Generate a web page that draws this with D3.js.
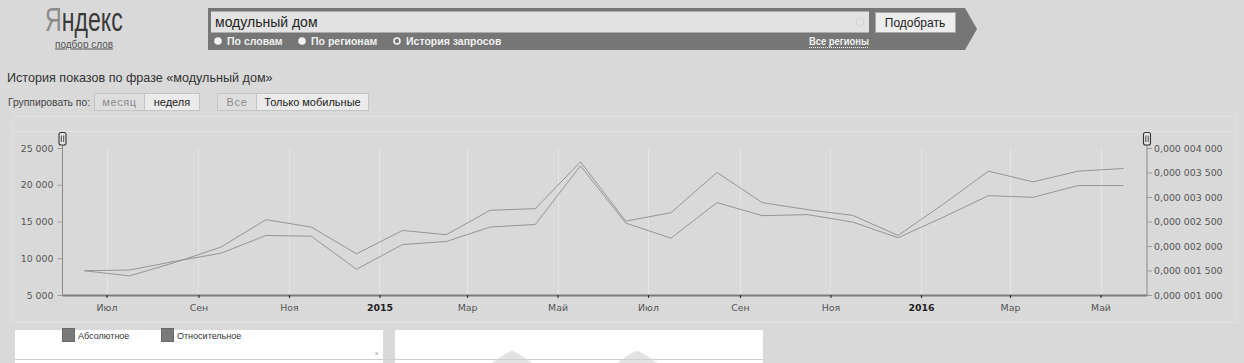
<!DOCTYPE html>
<html>
<head>
<meta charset="utf-8">
<script src="https://cdn.jsdelivr.net/npm/d3@7"></script>
<style>
  body { margin: 0; background: #d9d9d9; }
  svg { display: block; font-family: Arial, "Liberation Sans", sans-serif; }
  .axis text { font-family: "DejaVu Sans", Verdana, sans-serif; font-size: 9.4px; fill: #555; }
  .axis .year { font-weight: bold; fill: #222; }
</style>
</head>
<body>
<svg id="page" width="1244" height="363"></svg>
<script>
// monthly data, June 2014 - May 2016
const months = ['2014-06','2014-07','2014-08','2014-09','2014-10','2014-11','2014-12',
  '2015-01','2015-02','2015-03','2015-04','2015-05','2015-06','2015-07','2015-08','2015-09',
  '2015-10','2015-11','2015-12','2016-01','2016-02','2016-03','2016-04','2016-05'];

const absolute = [8300, 7600, 9450, 11500, 15250, 14240, 10600, 13780, 13200, 16520, 16750, 23110,
  15050, 16200, 21670, 17570, 16610, 15830, 13100, 17430, 21850, 20390, 21850, 22210];

const relative = [1.495e-6, 1.51e-6, 1.69e-6, 1.852e-6, 2.215e-6, 2.2e-6, 1.525e-6, 2.03e-6,
  2.092e-6, 2.386e-6, 2.44e-6, 3.636e-6, 2.467e-6, 2.16e-6, 2.886e-6, 2.619e-6, 2.64e-6,
  2.488e-6, 2.169e-6, 2.595e-6, 3.028e-6, 2.994e-6, 3.234e-6, 3.234e-6];

const monthNames = ['Янв','Фев','Мар','Апр','Май','Июн','Июл','Авг','Сен','Окт','Ноя','Дек'];
const leftTicks = [5000, 10000, 15000, 20000, 25000];
const rightTicks = [1e-6, 1.5e-6, 2e-6, 2.5e-6, 3e-6, 3.5e-6, 4e-6];

const svg = d3.select('#page');

// ---------- header ----------
// logo: one text, squeezed horizontally
const logo = svg.append('text')
  .attr('transform', 'translate(45,31) scale(0.68,1)')
  .style('font-size', '34px');
logo.append('tspan').attr('fill', '#8a8a8a').text('Я');
logo.append('tspan').attr('fill', '#3a3a3a').text('ндекс');

svg.append('text')
  .attr('x', 55).attr('y', 47.5)
  .style('font-size', '10px').attr('fill', '#555')
  .style('text-decoration', 'underline')
  .text('подбор слов');

// search band with arrow
svg.append('path')
  .attr('d', 'M208,8 L965,8 L977,29 L965,50 L208,50 Z')
  .attr('fill', '#767676');

svg.append('rect')
  .attr('x', 211).attr('y', 11.5).attr('width', 658).attr('height', 21)
  .attr('fill', '#e2e2e2');

svg.append('circle')
  .attr('cx', 860).attr('cy', 22).attr('r', 4)
  .attr('fill', 'none').attr('stroke', '#d0d0d0');

svg.append('text')
  .attr('x', 215).attr('y', 27)
  .style('font-size', '14px').attr('fill', '#222')
  .text('модульный дом');

svg.append('rect')
  .attr('x', 875.5).attr('y', 12.5).attr('width', 80).attr('height', 20)
  .attr('fill', '#ededed').attr('stroke', '#a8a8a8');
svg.append('text')
  .attr('x', 915).attr('y', 26.5).attr('text-anchor', 'middle')
  .style('font-size', '12px').attr('fill', '#222')
  .text('Подобрать');

const radios = [
  { x: 218, label: 'По словам', on: false },
  { x: 302, label: 'По регионам', on: false },
  { x: 397, label: 'История запросов', on: true }
];
radios.forEach(function(r){
  svg.append('circle')
    .attr('cx', r.x).attr('cy', 41).attr('r', r.on ? 3 : 3.8)
    .attr('fill', r.on ? 'none' : '#f2f2f2')
    .attr('stroke', '#f2f2f2').attr('stroke-width', r.on ? 1.6 : 0);
  svg.append('text')
    .attr('x', r.x + 9).attr('y', 45)
    .style('font-size', '10.5px').style('font-weight', 'bold').attr('fill', '#f0f0f0')
    .text(r.label);
});

svg.append('text')
  .attr('x', 809).attr('y', 45)
  .style('font-size', '10px').style('font-weight', 'bold').attr('fill', '#f0f0f0')
  .attr('textLength', 60).attr('lengthAdjust', 'spacingAndGlyphs')
  .text('Все регионы');
svg.append('line')
  .attr('x1', 809).attr('x2', 869).attr('y1', 47.5).attr('y2', 47.5)
  .attr('stroke', '#f0f0f0').attr('stroke-dasharray', '1,1');

// title and buttons
svg.append('text')
  .attr('x', 7).attr('y', 82)
  .style('font-size', '12.6px').attr('fill', '#333')
  .text('История показов по фразе «модульный дом»');

svg.append('text')
  .attr('x', 8).attr('y', 106)
  .style('font-size', '10.5px').attr('fill', '#444')
  .attr('textLength', 82).attr('lengthAdjust', 'spacingAndGlyphs')
  .text('Группировать по:');

const buttons = [
  { x: 94, w: 50, label: 'месяц', on: true },
  { x: 144, w: 55, label: 'неделя', on: false },
  { x: 217, w: 39, label: 'Все', on: true },
  { x: 256, w: 112, label: 'Только мобильные', on: false }
];
buttons.forEach(function(b){
  svg.append('rect')
    .attr('x', b.x + 0.5).attr('y', 93.5).attr('width', b.w).attr('height', 17)
    .attr('fill', b.on ? '#dedede' : '#ebebeb')
    .attr('stroke', '#c4c4c4');
  svg.append('text')
    .attr('x', b.x + b.w / 2 + 0.5).attr('y', 106)
    .attr('text-anchor', 'middle')
    .style('font-size', '11px')
    .style('letter-spacing', b.on ? '0.6px' : '0px')
    .attr('fill', b.on ? '#8a8a8a' : '#222')
    .text(b.label);
});

// ---------- chart ----------
svg.append('rect')
  .attr('x', 12.5).attr('y', 116.5).attr('width', 1224).attr('height', 206)
  .attr('fill', 'none').attr('stroke', '#e1e1e1');
svg.append('line')
  .attr('x1', 12).attr('x2', 1237).attr('y1', 131.5).attr('y2', 131.5)
  .attr('stroke', '#e1e1e1');

const x = d3.scaleTime()
  .domain([new Date(2014, 5, 1), new Date(2016, 5, 1)])
  .range([62, 1146.5]);
const yLeft = d3.scaleLinear().domain([5000, 25000]).range([295, 148]);
const yRight = d3.scaleLinear().domain([1e-6, 4e-6]).range([295, 148]);

const parse = d3.timeParse('%Y-%m');
const mid = function(m){
  const a = parse(m), b = d3.timeMonth.offset(a, 1);
  return new Date((a.getTime() + b.getTime()) / 2);
};

const xTicks = x.ticks(d3.timeMonth.every(2));

// vertical grid
svg.append('g').selectAll('line')
  .data(xTicks)
  .join('line')
  .attr('x1', function(d){ return Math.round(x(d)) + 0.5; })
  .attr('x2', function(d){ return Math.round(x(d)) + 0.5; })
  .attr('y1', 148).attr('y2', 294)
  .attr('stroke', '#e4e4e4');

// lines
const lineAbs = d3.line()
  .x(function(d, i){ return x(mid(months[i])); })
  .y(function(d){ return yLeft(d); });
const lineRel = d3.line()
  .x(function(d, i){ return x(mid(months[i])); })
  .y(function(d){ return yRight(d); });

svg.append('path').datum(absolute)
  .attr('d', lineAbs)
  .attr('fill', 'none').attr('stroke', '#959595').attr('stroke-width', 1);
svg.append('path').datum(relative)
  .attr('d', lineRel)
  .attr('fill', 'none').attr('stroke', '#959595').attr('stroke-width', 1);

// axes
const fmtLeft = function(d){ return d3.format(',')(d).replace(/,/g, ' '); };
const fmtRight = function(d){
  const s = d.toFixed(9).split('.');
  return s[0] + ',' + s[1].match(/.{3}/g).join(' ');
};

const gLeft = svg.append('g').attr('class', 'axis')
  .attr('transform', 'translate(62.5,0)')
  .call(d3.axisLeft(yLeft).tickValues(leftTicks).tickFormat(fmtLeft)
    .tickSize(5).tickSizeOuter(0).tickPadding(4));
gLeft.select('.domain').attr('stroke', '#8a8a8a').attr('d', 'M0,145V295');
gLeft.selectAll('.tick line').attr('stroke', '#999');

const gRight = svg.append('g').attr('class', 'axis')
  .attr('transform', 'translate(1147,0)')
  .call(d3.axisRight(yRight).tickValues(rightTicks).tickFormat(fmtRight)
    .tickSize(5).tickSizeOuter(0).tickPadding(2));
gRight.select('.domain').attr('stroke', '#8a8a8a').attr('d', 'M0,145V295');
gRight.selectAll('.tick line').attr('stroke', '#999');

const gBottom = svg.append('g').attr('class', 'axis')
  .attr('transform', 'translate(0,295)')
  .call(d3.axisBottom(x).tickValues(xTicks)
    .tickFormat(function(d){ return d.getMonth() === 0 ? d.getFullYear() : monthNames[d.getMonth()]; })
    .tickSize(3).tickSizeOuter(0).tickPadding(6));
gBottom.select('.domain').attr('stroke', '#7c7c7c').attr('stroke-width', 2);
gBottom.selectAll('.tick line').attr('stroke', '#333').attr('stroke-width', 1.2);
gBottom.selectAll('.tick text')
  .classed('year', function(d){ return d.getMonth() === 0; });

// scroll handles
[62.5, 1147].forEach(function(hx){
  svg.append('rect')
    .attr('x', hx - 3.5).attr('y', 132.5).attr('width', 7).attr('height', 12.5)
    .attr('rx', 2)
    .attr('fill', '#e6e6e6').attr('stroke', '#333').attr('stroke-width', 1.1);
  [-1.2, 1.2].forEach(function(dx){
    svg.append('line')
      .attr('x1', hx + dx).attr('x2', hx + dx).attr('y1', 135.5).attr('y2', 142)
      .attr('stroke', '#333').attr('stroke-width', 0.9);
  });
});

// ---------- lower panels ----------
svg.append('rect').attr('x', 15).attr('y', 330).attr('width', 368).attr('height', 33).attr('fill', '#fff');
svg.append('rect').attr('x', 395).attr('y', 330).attr('width', 368).attr('height', 33).attr('fill', '#fff');

const legend = [{ x: 62, label: 'Абсолютное' }, { x: 161, label: 'Относительное' }];
legend.forEach(function(l){
  svg.append('rect')
    .attr('x', l.x + 0.5).attr('y', 328.5).attr('width', 12).attr('height', 13)
    .attr('fill', '#7a7a7a').attr('stroke', '#6a6a6a');
  svg.append('text')
    .attr('x', l.x + 16).attr('y', 339)
    .style('font-size', '9px').attr('fill', '#333')
    .text(l.label);
});

svg.append('text')
  .attr('x', 375).attr('y', 355)
  .style('font-size', '5px').attr('fill', '#aaa')
  .text('ж');

// faint shapes in right panel
[512, 637].forEach(function(px){
  svg.append('path')
    .attr('d', 'M' + (px - 20) + ',363 Q' + (px - 8) + ',354 ' + (px - 3) + ',352 Q' + px + ',350 ' + (px + 3) + ',352 Q' + (px + 8) + ',354 ' + (px + 20) + ',363 Z')
    .attr('fill', '#e2e2e2');
});

svg.append('line')
  .attr('x1', 15).attr('x2', 763).attr('y1', 359.5).attr('y2', 359.5)
  .attr('stroke', '#d0d0d0');
</script>
</body>
</html>
